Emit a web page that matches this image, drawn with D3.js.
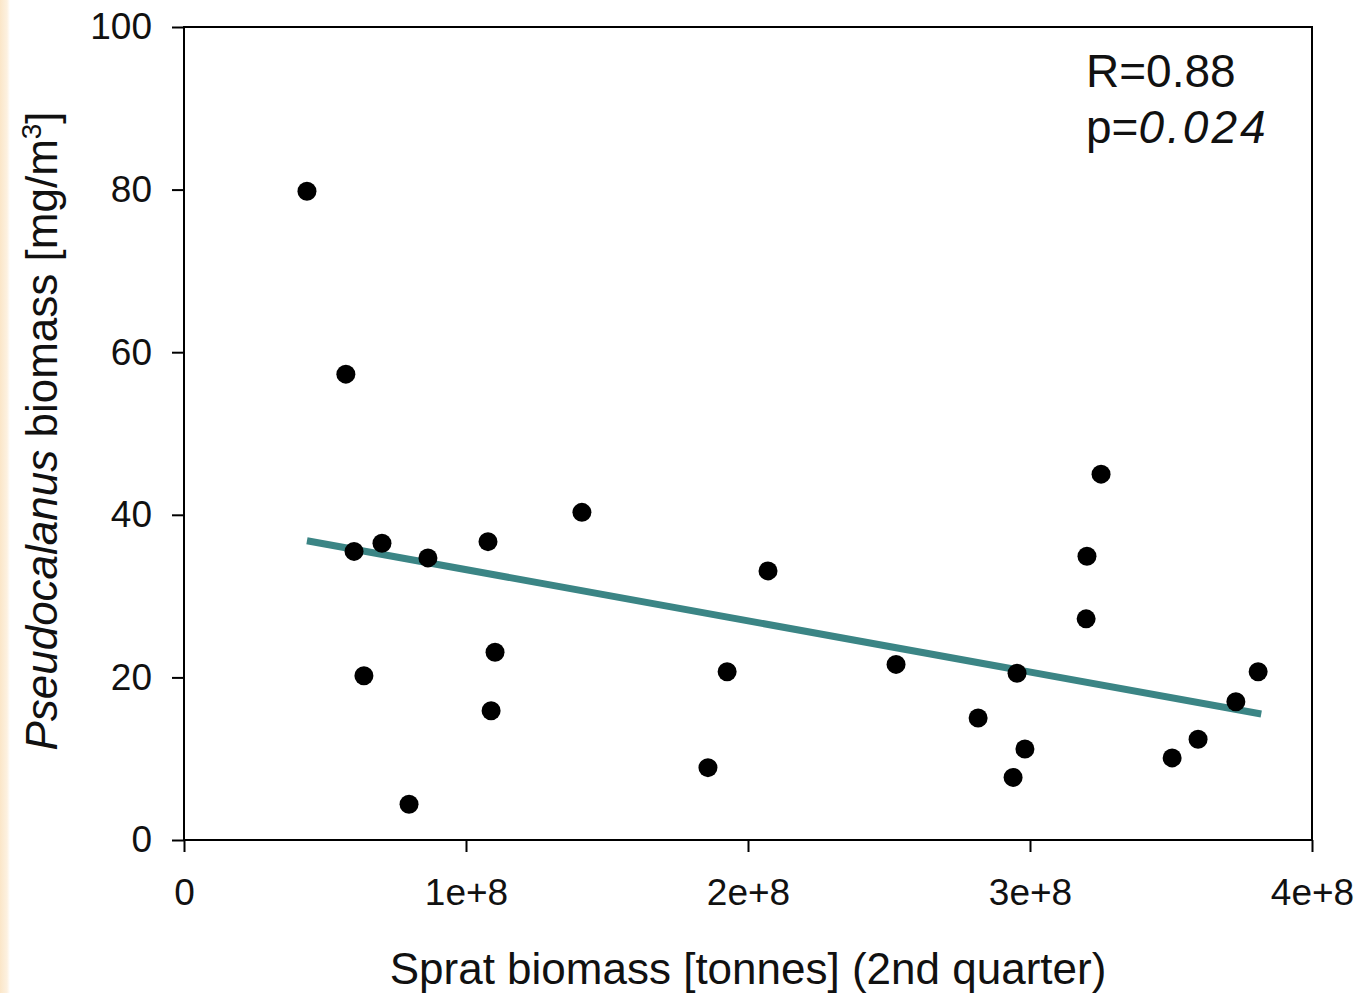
<!DOCTYPE html>
<html>
<head>
<meta charset="utf-8">
<script src="https://cdn.jsdelivr.net/npm/d3@7"></script>
<style>
    body { margin: 0; background: #fff; }
    svg { display: block; font-family: "Liberation Sans", Arial, sans-serif; }
</style>
</head>
<body>
<svg id="chart" width="1364" height="993"></svg>
<script>
// Sprat biomass (tonnes) vs Pseudocalanus biomass (mg/m3)
const spratBiomass = [
    0.436e8, 0.574e8, 0.603e8, 0.702e8, 0.638e8, 0.865e8, 0.798e8,
    1.078e8, 1.103e8, 1.089e8, 1.411e8, 1.858e8, 1.926e8, 2.071e8,
    2.525e8, 2.816e8, 2.940e8, 2.954e8, 2.982e8, 3.199e8, 3.202e8,
    3.252e8, 3.504e8, 3.596e8, 3.730e8, 3.809e8
];
const pseudoBiomass = [
    79.8, 57.3, 35.5, 36.5, 20.2, 34.7, 4.4,
    36.7, 23.1, 15.9, 40.3, 8.9, 20.7, 33.1,
    21.6, 15.0, 7.7, 20.5, 11.2, 27.2, 34.9,
    45.0, 10.1, 12.4, 17.0, 20.7
];

// regression line end points
const fitX = [0.436e8, 3.82e8];
const fitY = [36.8, 15.5];

const xTicks = [0, 1e8, 2e8, 3e8, 4e8];
const xTickLabels = ['0', '1e+8', '2e+8', '3e+8', '4e+8'];
const yTicks = [0, 20, 40, 60, 80, 100];

const svg = d3.select('#chart');
const margin = { left: 184, top: 27, right: 52, bottom: 153 };
const width = 1364 - margin.left - margin.right;
const height = 993 - margin.top - margin.bottom;

// beige strip at left edge
const grad = svg.append('defs').append('linearGradient')
    .attr('id', 'edge').attr('x1', 0).attr('x2', 1);
grad.append('stop').attr('offset', 0).attr('stop-color', '#fbe6c8');
grad.append('stop').attr('offset', 0.7).attr('stop-color', '#fdf1e0');
grad.append('stop').attr('offset', 1).attr('stop-color', '#ffffff');
svg.append('rect').attr('x', 0).attr('y', 0).attr('width', 10).attr('height', 993)
    .attr('fill', 'url(#edge)');

const g = svg.append('g').attr('transform', `translate(${margin.left},${margin.top})`);

const x = d3.scaleLinear().domain([0, 4e8]).range([0, width]);
const y = d3.scaleLinear().domain([0, 100]).range([height, 0]);

// frame
g.append('rect')
    .attr('width', width).attr('height', height)
    .attr('fill', 'none').attr('stroke', '#000').attr('stroke-width', 2);

// axes
const yAxis = g.append('g')
    .call(d3.axisLeft(y).tickValues(yTicks).tickSize(12).tickPadding(20));
const xAxis = g.append('g')
    .attr('transform', `translate(0,${height})`)
    .call(d3.axisBottom(x).tickValues(xTicks).tickSize(12).tickPadding(27)
        .tickFormat((d, i) => xTickLabels[i]));

[xAxis, yAxis].forEach(a => {
    a.select('.domain').remove();
    a.selectAll('line').attr('stroke', '#000').attr('stroke-width', 2);
    a.selectAll('text')
        .attr('fill', '#111')
        .style('font-size', '37px')
        .style('font-family', '"Liberation Sans", Arial, sans-serif');
});

// regression line
g.append('line')
    .attr('x1', x(fitX[0])).attr('y1', y(fitY[0]))
    .attr('x2', x(fitX[1])).attr('y2', y(fitY[1]))
    .attr('stroke', '#3b8585').attr('stroke-width', 7);

// points
g.append('g').selectAll('circle')
    .data(spratBiomass)
    .enter().append('circle')
    .attr('cx', d => x(d))
    .attr('cy', (d, i) => y(pseudoBiomass[i]))
    .attr('r', 9.5)
    .attr('fill', '#000');

// annotation
const ann = g.append('text').attr('x', 902).attr('y', 60)
    .style('font-size', '46px').attr('fill', '#111');
ann.append('tspan').text('R=0.88');
const ann2 = g.append('text').attr('x', 902).attr('y', 116)
    .style('font-size', '46px').attr('fill', '#111');
ann2.append('tspan').text('p=');
ann2.append('tspan').style('font-style', 'italic').style('letter-spacing', '3px').text('0.024');

// axis titles
svg.append('text')
    .attr('x', 748).attr('y', 984)
    .attr('text-anchor', 'middle')
    .style('font-size', '44px').attr('fill', '#111')
    .text('Sprat biomass [tonnes] (2nd quarter)');

const yTitle = svg.append('text')
    .attr('transform', 'translate(57,431) rotate(-90)')
    .attr('text-anchor', 'middle')
    .style('font-size', '44px').attr('fill', '#111');
yTitle.append('tspan').style('font-style', 'italic').text('Pseudocalanus');
yTitle.append('tspan').text(' biomass [mg/m');
yTitle.append('tspan').attr('dy', -16).style('font-size', '28px').text('3');
yTitle.append('tspan').attr('dy', 16).text(']');
</script>
</body>
</html>
